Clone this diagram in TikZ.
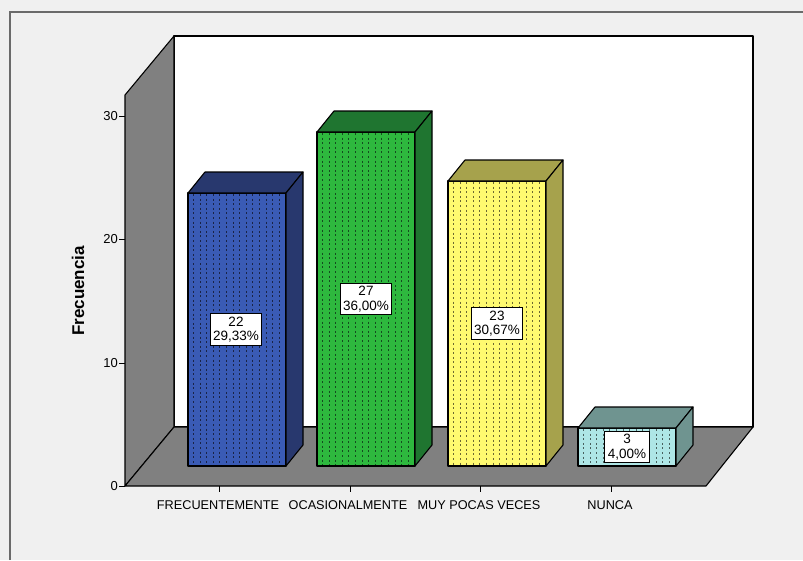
\documentclass[tikz,border=0pt]{standalone}
\usepackage{fontspec}
\setmainfont{Liberation Sans}
\definecolor{bgc}{HTML}{F0F0F0}
\definecolor{framec}{HTML}{6A6A6A}
\definecolor{wallc}{HTML}{808080}
\definecolor{bluef}{HTML}{3A5BB5}
\definecolor{bluet}{HTML}{28386E}
\definecolor{greenf}{HTML}{2EB83E}
\definecolor{greent}{HTML}{1F7530}
\definecolor{yellowf}{HTML}{FFFA70}
\definecolor{yellowt}{HTML}{A6A24C}
\definecolor{cyanf}{HTML}{AEE6E6}
\definecolor{cyant}{HTML}{6F9490}
\tikzset{
  edge/.style={draw=black, line width=1.1pt, line join=round},
  vallabel/.style={draw=black, fill=white, line width=0.9pt, align=center,
    font=\fontsize{13.5}{14.5}\selectfont, inner xsep=3pt, inner ysep=3pt},
  ticklabel/.style={anchor=east, font=\fontsize{13}{13}\selectfont, inner sep=1pt},
  catlabel/.style={font=\fontsize{12.7}{13}\selectfont, inner sep=0pt},
  hatch/.style={line width=1pt, dash pattern=on 2pt off 2.6pt}
}
% bar: x0, ytop, front colour, top colour
\newcommand{\bardraw}[4]{%
  \fill[#3] (#1,#2) rectangle ({#1+98},466);
  \begin{scope}
    \clip (#1,#2) rectangle ({#1+98},466);
    \foreach \k in {0,...,13} {
      \draw[hatch, #4!65!black] ({#1+5.5+6.6*\k},{#2+1}) -- ({#1+5.5+6.6*\k},466);
    }
  \end{scope}
  \draw[edge] (#1,#2) rectangle ({#1+98},466);
  \draw[edge, fill=#4] (#1,#2) -- ({#1+17},{#2-21}) -- ({#1+115},{#2-21}) -- ({#1+98},#2) -- cycle;
  \draw[edge, fill=#4] ({#1+98},#2) -- ({#1+115},{#2-21}) -- ({#1+115},445) -- ({#1+98},466) -- cycle;
}
\begin{document}
\begin{tikzpicture}[x=1pt,y=-1pt]
\useasboundingbox (0,0) rectangle (803,560);
\fill[bgc] (0,0) rectangle (803,560);
% outer frame
\draw[framec, line width=1.6pt] (10,560) -- (10,12) -- (803,12);
% walls
\draw[edge, fill=white] (174,36) rectangle (753,427);
\draw[edge, fill=wallc] (125,95) -- (174,36) -- (174,427) -- (125,486) -- cycle;
\draw[edge, fill=wallc] (125,486) -- (174,427) -- (753,427) -- (706,486) -- cycle;
% y axis ticks and labels
\foreach \v/\yy in {0/486,10/363,20/239,30/116} {
  \draw[line width=1pt] (119,\yy) -- (125,\yy);
  \node[ticklabel] (t\v) at (119,\yy) {\v};
}
\node[rotate=90, font=\bfseries\fontsize{17}{17}\selectfont] (ylab) at (78,291) {Frecuencia};
% category ticks
\foreach \xx in {219,350,480,611} {
  \draw[line width=1pt] (\xx,486) -- (\xx,492);
}
\node[catlabel] (c1) at (218,505) {FRECUENTEMENTE};
\node[catlabel] (c2) at (348,505) {OCASIONALMENTE};
\node[catlabel] (c3) at (479,505) {MUY POCAS VECES};
\node[catlabel] (c4) at (610,505) {NUNCA};
% bars
\bardraw{188}{193}{bluef}{bluet}
\bardraw{317}{132}{greenf}{greent}
\bardraw{448}{181}{yellowf}{yellowt}
\bardraw{578}{428}{cyanf}{cyant}
% value labels
\node[vallabel] (v1) at (236,329.5) {22\\29,33\%};
\node[vallabel] (v2) at (366,299) {27\\36,00\%};
\node[vallabel] (v3) at (497,323.5) {23\\30,67\%};
\node[vallabel] (v4) at (627,447) {3\\4,00\%};
\end{tikzpicture}
\end{document}
